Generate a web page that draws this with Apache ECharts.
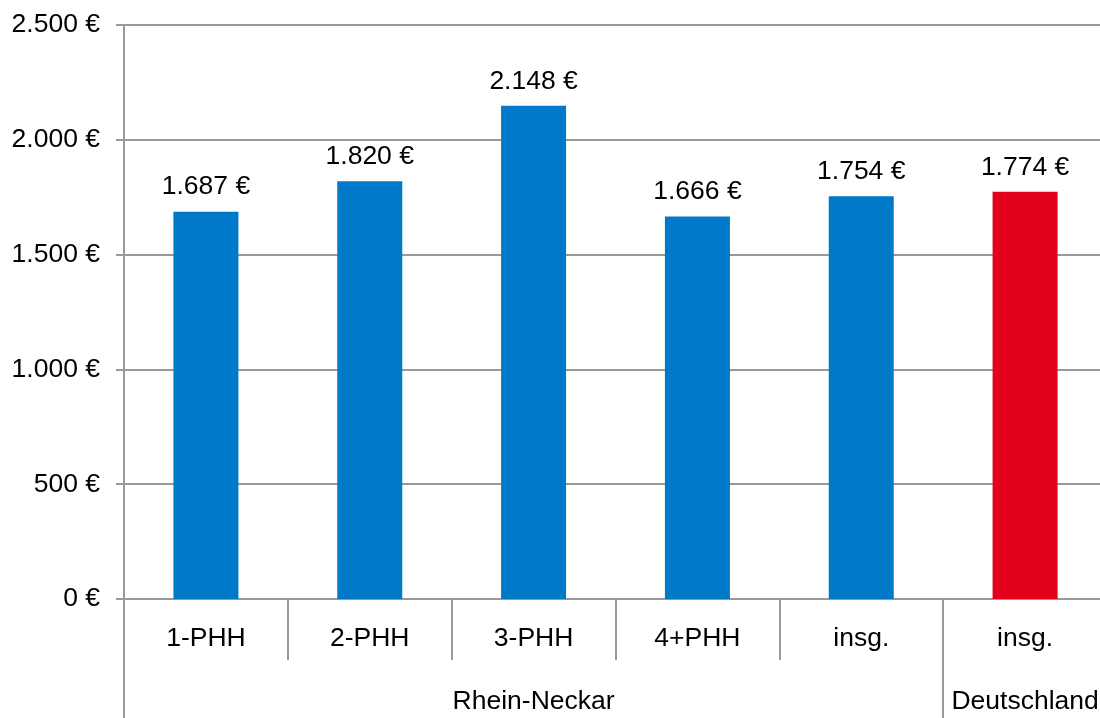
<!DOCTYPE html>
<html>
<head>
<meta charset="utf-8">
<script src="https://cdn.jsdelivr.net/npm/echarts@6/dist/echarts.min.js"></script>
<style>
  html, body { margin: 0; padding: 0; background: #fff; }
  #chart { width: 1100px; height: 718px; }
</style>
</head>
<body>
<div id="chart"></div>
<script>
// Household categories (first axis row) and regions (second axis row)
const categories = ['1-PHH', '2-PHH', '3-PHH', '4+PHH', 'insg.', 'insg.'];
const values = [1687, 1820, 2148, 1666, 1754, 1774];
const barColors = ['#0079C8', '#0079C8', '#0079C8', '#0079C8', '#0079C8', '#E3001B'];
const regions = ['Rhein-Neckar', 'Deutschland'];
// Region spans in category units: [start, end]
const regionSpans = [[0, 5], [5, 6]];

const FONT = 'Liberation Sans, Arial, sans-serif';
const FS = 26.5;
const LINE = '#999999';

function euro(v) {
  return String(v).replace(/\B(?=(\d{3})+(?!\d))/g, '.') + ' €';
}

const regionCenters = regionSpans.map(s => (s[0] + s[1]) / 2);
const regionBounds = [regionSpans[0][0]].concat(regionSpans.map(s => s[1]));

const chart = echarts.init(document.getElementById('chart'));
chart.setOption({
  animation: false,
  grid: {
    left: 124, width: 983, top: 25, bottom: 119,
    containLabel: false, outerBoundsMode: 'none'
  },
  xAxis: [
    {
      type: 'category',
      data: categories,
      position: 'bottom',
      axisLine: { show: true, lineStyle: { color: LINE, width: 2 } },
      axisTick: { show: true, length: 61, lineStyle: { color: LINE, width: 2 } },
      axisLabel: { color: '#000', fontSize: FS, fontFamily: FONT, margin: 26 },
      splitLine: { show: false }
    },
    {
      type: 'value',
      min: 0,
      max: categories.length,
      position: 'bottom',
      axisLine: { show: false },
      axisTick: {
        show: true,
        length: 121,
        customValues: regionBounds.slice(0, regionBounds.length - 1),
        lineStyle: { color: LINE, width: 2 }
      },
      axisLabel: {
        show: true,
        customValues: regionCenters,
        color: '#000',
        fontSize: FS,
        fontFamily: FONT,
        margin: 89,
        formatter: function (v) {
          const i = regionCenters.indexOf(v);
          return i >= 0 ? regions[i] : '';
        }
      },
      splitLine: { show: false }
    }
  ],
  yAxis: {
    type: 'value',
    min: 0,
    max: 2500,
    interval: 500,
    axisLine: { show: true, lineStyle: { color: LINE, width: 2 } },
    axisTick: { show: true, length: 8, lineStyle: { color: LINE, width: 2 } },
    axisLabel: {
      color: '#000', fontSize: FS, fontFamily: FONT, margin: 24,
      formatter: euro
    },
    splitLine: { show: true, lineStyle: { color: LINE, width: 2 } }
  },
  series: [{
    type: 'bar',
    xAxisIndex: 0,
    data: values.map((v, i) => ({ value: v, itemStyle: { color: barColors[i] } })),
    barWidth: 65,
    label: {
      show: true,
      position: 'top',
      distance: 11,
      color: '#000',
      fontSize: FS,
      fontFamily: FONT,
      formatter: p => euro(p.value)
    }
  }]
});
</script>
</body>
</html>
